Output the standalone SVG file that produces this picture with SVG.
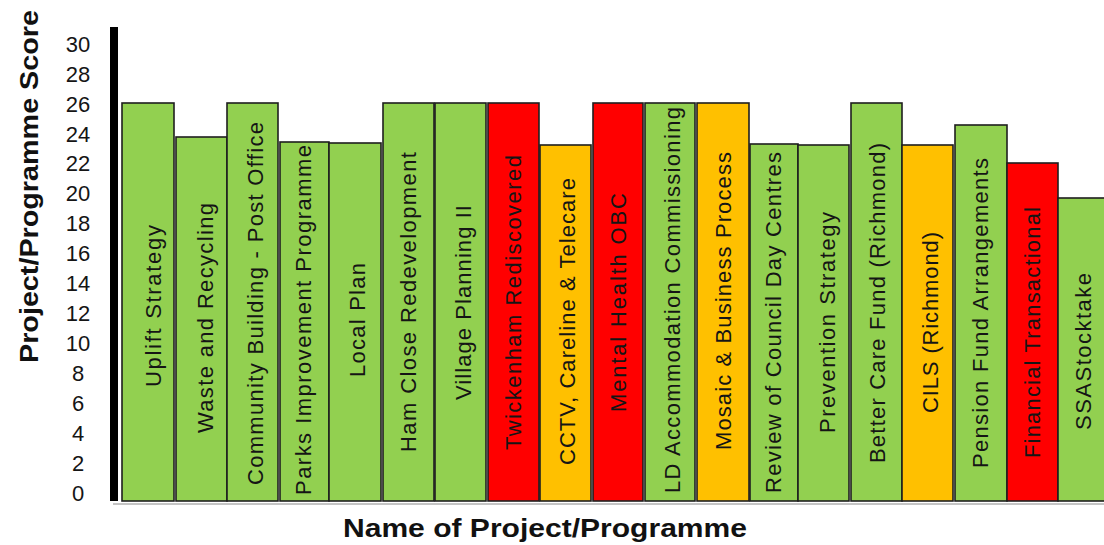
<svg xmlns="http://www.w3.org/2000/svg" width="1104" height="545" viewBox="0 0 1104 545">
<style>
.bar{stroke:#1e1e1e;stroke-width:1.6}
.g{fill:#92D050}.r{fill:#FF0000}.a{fill:#FFC000}
.lbl{font-family:"Liberation Sans",Arial,sans-serif;font-size:22px;fill:#151515}
.tick{font-family:"Liberation Sans",Arial,sans-serif;font-size:22px;fill:#151515;text-anchor:middle}
.title{font-family:"Liberation Sans",Arial,sans-serif;font-weight:bold;fill:#111}
</style>
<rect width="1104" height="545" fill="#ffffff"/>
<g id="axes">
<line x1="113" y1="504" x2="1104" y2="504" stroke="#c4c4c4" stroke-width="2"/>
<rect x="110" y="27" width="8" height="474" fill="#000"/>
</g>
<g id="y-ticks">
<text class="tick" x="78" y="501">0</text>
<text class="tick" x="78" y="471">2</text>
<text class="tick" x="78" y="441">4</text>
<text class="tick" x="78" y="411">6</text>
<text class="tick" x="78" y="381">8</text>
<text class="tick" x="78" y="351">10</text>
<text class="tick" x="78" y="321">12</text>
<text class="tick" x="78" y="291">14</text>
<text class="tick" x="78" y="261">16</text>
<text class="tick" x="78" y="231">18</text>
<text class="tick" x="78" y="201">20</text>
<text class="tick" x="78" y="171">22</text>
<text class="tick" x="78" y="142">24</text>
<text class="tick" x="78" y="112">26</text>
<text class="tick" x="78" y="82">28</text>
<text class="tick" x="78" y="52">30</text>
</g>
<g id="y-title">
<text class="title" font-size="25" transform="translate(38,363) rotate(-90)" textLength="353" lengthAdjust="spacingAndGlyphs">Project/Programme Score</text>
</g>
<g id="x-title">
<text class="title" font-size="26" x="343" y="537" textLength="404" lengthAdjust="spacingAndGlyphs">Name of Project/Programme</text>
</g>
<g id="bar-01"><rect class="bar g" x="122" y="103" width="52" height="398"/><text class="lbl" transform="translate(161,387) rotate(-90)" textLength="162">Uplift Strategy</text></g>
<g id="bar-02"><rect class="bar g" x="176" y="137" width="51" height="364"/><text class="lbl" transform="translate(213,433) rotate(-90)" textLength="230">Waste and Recycling</text></g>
<g id="bar-03"><rect class="bar g" x="227" y="103" width="51" height="398"/><text class="lbl" transform="translate(263,485) rotate(-90)" textLength="363">Community Building - Post Office</text></g>
<g id="bar-04"><rect class="bar g" x="280" y="142" width="49" height="359"/><text class="lbl" transform="translate(311,495) rotate(-90)" textLength="350">Parks Improvement Programme</text></g>
<g id="bar-05"><rect class="bar g" x="329" y="143" width="52" height="358"/><text class="lbl" transform="translate(365,377) rotate(-90)" textLength="114">Local Plan</text></g>
<g id="bar-06"><rect class="bar g" x="383" y="103" width="51" height="398"/><text class="lbl" transform="translate(416,452) rotate(-90)" textLength="300">Ham Close Redevelopment</text></g>
<g id="bar-07"><rect class="bar g" x="435" y="103" width="51" height="398"/><text class="lbl" transform="translate(471,400) rotate(-90)" textLength="195">Village Planning II</text></g>
<g id="bar-08"><rect class="bar r" x="488" y="103" width="51" height="398"/><text class="lbl" transform="translate(521,450) rotate(-90)" textLength="295">Twickenham Rediscovered</text></g>
<g id="bar-09"><rect class="bar a" x="540" y="145" width="51" height="356"/><text class="lbl" transform="translate(575,465) rotate(-90)" textLength="287">CCTV, Careline &amp; Telecare</text></g>
<g id="bar-10"><rect class="bar r" x="593" y="103" width="50" height="398"/><text class="lbl" transform="translate(626,412) rotate(-90)" textLength="219">Mental Health OBC</text></g>
<g id="bar-11"><rect class="bar g" x="645" y="103" width="50" height="398"/><text class="lbl" transform="translate(680,493) rotate(-90)" textLength="386">LD Accommodation Commissioning</text></g>
<g id="bar-12"><rect class="bar a" x="697" y="103" width="52" height="398"/><text class="lbl" transform="translate(731,450) rotate(-90)" textLength="298">Mosaic &amp; Business Process</text></g>
<g id="bar-13"><rect class="bar g" x="750" y="144" width="48" height="357"/><text class="lbl" transform="translate(781,493) rotate(-90)" textLength="341">Review of Council Day Centres</text></g>
<g id="bar-14"><rect class="bar g" x="798" y="145" width="51" height="356"/><text class="lbl" transform="translate(835,433) rotate(-90)" textLength="221">Prevention Strategy</text></g>
<g id="bar-15"><rect class="bar g" x="851" y="103" width="51" height="398"/><text class="lbl" transform="translate(885,463) rotate(-90)" textLength="320">Better Care Fund (Richmond)</text></g>
<g id="bar-16"><rect class="bar a" x="902" y="145" width="51" height="356"/><text class="lbl" transform="translate(938,413) rotate(-90)" textLength="181">CILS (Richmond)</text></g>
<g id="bar-17"><rect class="bar g" x="955" y="125" width="52" height="376"/><text class="lbl" transform="translate(988,468) rotate(-90)" textLength="310">Pension Fund Arrangements</text></g>
<g id="bar-18"><rect class="bar r" x="1007" y="163" width="51" height="338"/><text class="lbl" transform="translate(1040,458) rotate(-90)" textLength="251">Financial Transactional</text></g>
<g id="bar-19"><rect class="bar g" x="1058" y="198" width="52" height="303"/><text class="lbl" transform="translate(1091,430) rotate(-90)" textLength="157">SSAStocktake</text></g>
</svg>
